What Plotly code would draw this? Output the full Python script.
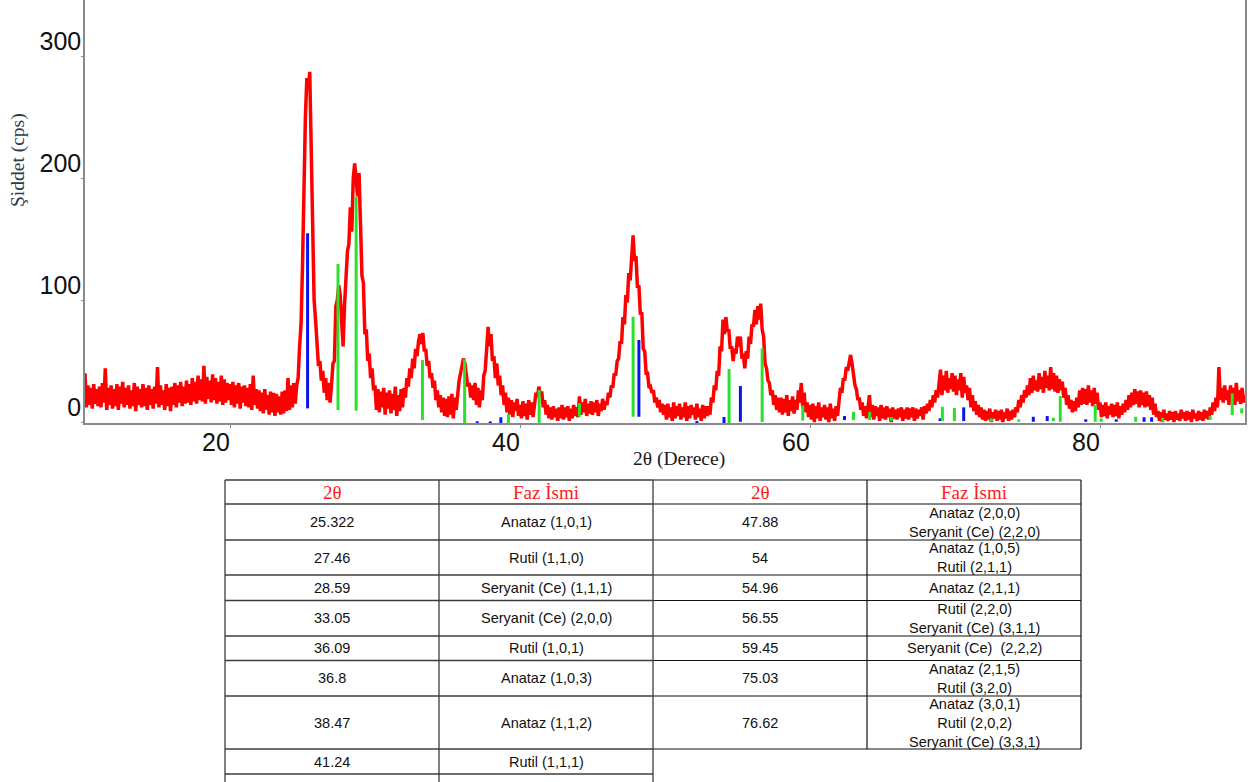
import plotly.graph_objects as go

# ---- diffraction pattern: 2θ from 10° to 90° sampled every 0.1° ----
two_theta_start = 10.0
two_theta_step = 0.1
intensity = [
    40, 12, 30, 14, 28, 11, 31, 15, 27, 13,      # 10
    29, 12, 32, 16, 44, 10, 28, 14, 30, 11,      # 11
    27, 13, 31, 10, 29, 15, 33, 12, 28, 14,      # 12
    30, 11, 26, 13, 32, 9, 29, 14, 27, 12,       # 13
    31, 13, 28, 10, 30, 14, 27, 11, 29, 15,      # 14
    45, 12, 30, 14, 26, 10, 31, 13, 28, 9,       # 15
    29, 14, 32, 12, 30, 16, 33, 13, 29, 15,      # 16
    34, 16, 31, 14, 36, 17, 33, 15, 38, 18,      # 17
    35, 17, 46, 15, 37, 19, 34, 16, 39, 18,      # 18
    36, 15, 33, 17, 38, 14, 35, 16, 32, 18,      # 19
    31, 14, 33, 12, 30, 15, 32, 11, 29, 16,      # 20
    30, 13, 28, 12, 31, 10, 38, 14, 27, 11,      # 21
    26, 9, 24, 7, 27, 10, 22, 6, 25, 8,          # 22
    24, 5, 23, 8, 21, 6, 25, 7, 26, 9,           # 23
    36, 10, 30, 12, 32, 15, 30, 36, 62, 80,      # 24
    128, 212, 250, 282, 272, 287, 220, 160, 100, 84,  # 25
    66, 46, 50, 34, 42, 24, 36, 18, 32, 16,      # 26
    30, 48, 50, 95, 100, 112, 104, 80, 62, 96,   # 27
    114, 140, 146, 176, 156, 200, 212, 194, 185, 204,  # 28
    170, 120, 114, 72, 76, 50, 56, 36, 44, 26,   # 29
    30, 10, 27, 8, 25, 12, 28, 6, 24, 11,        # 30
    26, 7, 23, 10, 29, 5, 22, 9, 27, 12,         # 31
    28, 20, 36, 29, 44, 36, 52, 44, 60, 54,      # 32
    66, 72, 64, 73, 58, 60, 46, 50, 36, 40,      # 33
    28, 34, 18, 26, 12, 22, 8, 20, 5, 19,        # 34
    4, 21, 6, 23, 3, 20, 10, 24, 34, 40,         # 35
    45, 52, 48, 38, 29, 32, 20, 30, 18, 32,      # 36
    14, 28, 12, 26, 18, 38, 42, 60, 78, 62,      # 37
    72, 50, 54, 36, 48, 30, 38, 22, 30, 14,      # 38
    24, 8, 20, 6, 18, 4, 16, 9, 19, 5,           # 39
    14, 3, 17, 5, 15, 2, 18, 6, 16, 4,           # 40
    14, 24, 20, 29, 22, 25, 12, 18, 6, 14,       # 41
    3, 12, 2, 13, 4, 11, 1, 12, 3, 14,           # 42
    2, 12, 4, 13, 1, 11, 3, 14, 5, 12,           # 43
    4, 21, 6, 16, 8, 19, 5, 15, 7, 17,           # 44
    6, 16, 8, 18, 5, 15, 9, 19, 10, 17,          # 45
    14, 24, 20, 30, 28, 40, 38, 50, 52, 66,      # 46
    64, 86, 80, 104, 98, 122, 116, 140, 153, 132,  # 47
    136, 110, 112, 88, 90, 60, 58, 40, 40, 28,   # 48
    29, 24, 26, 16, 20, 12, 18, 8, 15, 6,        # 49
    14, 2, 15, 4, 12, 1, 16, 3, 13, 5,           # 50
    15, 2, 12, 4, 16, 1, 13, 3, 14, 6,           # 51
    12, 2, 15, 4, 11, 1, 14, 3, 13, 5,           # 52
    13, 6, 20, 16, 30, 26, 42, 38, 62, 58,       # 53
    84, 72, 86, 74, 76, 60, 62, 50, 60, 56,      # 54
    70, 62, 70, 52, 56, 44, 58, 52, 70, 64,      # 55
    80, 78, 92, 80, 95, 84, 97, 76, 70, 48,      # 56
    44, 34, 32, 22, 26, 14, 22, 10, 20, 8,       # 57
    20, 6, 19, 8, 22, 5, 18, 9, 21, 7,           # 58
    18, 10, 26, 16, 32, 12, 24, 8, 16, 4,        # 59
    14, 2, 15, 0, 13, 3, 16, 1, 12, 4,           # 60
    14, 2, 12, 0, 15, 3, 11, 1, 13, 5,           # 61
    18, 28, 24, 36, 34, 45, 42, 50, 55, 48,      # 62
    38, 30, 27, 18, 20, 10, 16, 5, 13, 3,        # 63
    12, 22, 4, 14, 2, 13, 5, 12, 1, 14,          # 64
    3, 12, 2, 13, 4, 11, 0, 12, 3, 10,           # 65
    2, 11, 4, 12, 1, 10, 3, 12, 2, 11,           # 66
    4, 12, 1, 11, 3, 10, 5, 12, 2, 13,           # 67
    7, 15, 9, 18, 12, 22, 16, 26, 20, 30,        # 68
    43, 22, 38, 26, 42, 24, 36, 27, 40, 25,      # 69
    38, 22, 35, 26, 40, 20, 37, 24, 30, 18,      # 70
    28, 12, 22, 9, 17, 6, 14, 4, 12, 2,          # 71
    10, 1, 9, 2, 11, 0, 8, 3, 10, 1,             # 72
    9, 2, 10, 0, 8, 3, 11, 1, 9, 2,              # 73
    10, 4, 12, 8, 18, 12, 22, 16, 26, 20,        # 74
    30, 22, 36, 24, 38, 26, 34, 25, 40, 27,      # 75
    37, 24, 42, 28, 38, 26, 45, 27, 40, 25,      # 76
    38, 24, 35, 26, 33, 20, 28, 14, 22, 11,      # 77
    18, 8, 17, 9, 20, 12, 26, 14, 28, 15,        # 78
    27, 14, 30, 16, 26, 13, 28, 15, 24, 10,      # 79
    16, 4, 14, 5, 16, 3, 13, 6, 15, 4,           # 80
    14, 5, 16, 3, 13, 6, 15, 8, 18, 10,          # 81
    22, 12, 24, 14, 27, 15, 25, 12, 26, 14,      # 82
    24, 12, 25, 13, 22, 10, 20, 6, 15, 4,        # 83
    9, 1, 8, 0, 10, 2, 7, 1, 9, 2,               # 84
    8, 0, 9, 2, 7, 1, 10, 3, 8, 1,               # 85
    9, 2, 8, 0, 10, 3, 7, 1, 9, 2,               # 86
    8, 1, 10, 3, 9, 2, 12, 6, 16, 9,             # 87
    20, 12, 45, 18, 28, 16, 30, 18, 26, 14,      # 88
    30, 18, 28, 14, 32, 17, 26, 15, 28, 16,      # 89
    22,                                          # 90
]

# ---- reference lines (position, top, bottom) ----
anatase_pos = [25.35, 37.05, 37.95, 38.68, 48.2, 52.2, 54.07, 55.2, 62.38,
               68.97, 70.6, 75.4, 76.36, 79.02, 81.12, 83.04, 83.56]
anatase_top = [154.7, 0.6, 0.5, 3.9, 67.2, 0.8, 4.1, 29.5, 4.9,
               3.0, 12.0, 4.3, 4.9, 2.2, 2.2, 3.9, 3.9]
anatase_bot = [11.2, -1, -1, -0.8, 4.3, -1, -0.8, 0.2, 1.6,
               0.8, 0.8, 0.2, 0.8, 0.2, 0.2, 0.2, 0.2]

other_pos = [27.45, 28.7, 33.27, 36.18, 39.2, 41.32, 44.1, 47.8, 54.42, 56.7,
             59.5, 63.0, 64.12, 65.6, 69.13, 69.96, 72.5, 74.4, 76.78, 77.26,
             79.67, 80.08, 82.46, 84.32, 87.6, 89.12, 89.77]
other_top = [129.5, 184.7, 50.8, 51.6, 6.6, 26.2, 15.3, 86.3, 43.4, 60.4,
             13.5, 8.4, 8.4, 4.1, 12.5, 11.5, 3.0, 2.2, 3.5, 21.3,
             14.0, 3.0, 4.3, 3.5, 4.9, 23.5, 11.2]
other_bot = [9.8, 9.3, 1.6, -0.8, -1, -0.6, 4.3, 4.3, -0.8, 0.0,
             1.2, 1.6, 1.6, 0.8, 0.8, 0.8, 0.2, 0.2, 0.8, 0.2,
             0.2, 0.2, 0.2, 0.2, 1.6, 5.7, 7.1]

x_ticks = [20, 40, 60, 80]
y_ticks = [0, 100, 200, 300]

# ---- phase table ----
left_theta = ["25.322", "27.46", "28.59", "33.05", "36.09", "36.8", "38.47", "41.24"]
left_phase = ["Anataz (1,0,1)", "Rutil (1,1,0)", "Seryanit (Ce) (1,1,1)",
              "Seryanit (Ce) (2,0,0)", "Rutil (1,0,1)", "Anataz (1,0,3)",
              "Anataz (1,1,2)", "Rutil (1,1,1)"]
right_theta = ["47.88", "54", "54.96", "56.55", "59.45", "75.03", "76.62"]
right_phase = ["Anataz (2,0,0)<br>Seryanit (Ce) (2,2,0)",
               "Anataz (1,0,5)<br>Rutil (2,1,1)",
               "Anataz (2,1,1)",
               "Rutil (2,2,0)<br>Seryanit (Ce) (3,1,1)",
               "Seryanit (Ce)\u00a0 (2,2,2)",
               "Anataz (2,1,5)<br>Rutil (3,2,0)",
               "Anataz (3,0,1)<br>Rutil (2,0,2)<br>Seryanit (Ce) (3,3,1)"]
header = ["2θ", "Faz İsmi", "2θ", "Faz İsmi"]

W, H = 1251, 782
two_theta = [two_theta_start + i * two_theta_step for i in range(len(intensity))]


def sticks(pos, top, bot):
    xs, ys = [], []
    for p, t, b in zip(pos, top, bot):
        xs += [p, p, None]
        ys += [b, t, None]
    return xs, ys


fig = go.Figure()
fig.add_trace(go.Scatter(x=two_theta, y=intensity, mode="lines",
                         line=dict(color="#ff0000", width=3.5), hoverinfo="skip"))
ax, ay = sticks(anatase_pos, anatase_top, anatase_bot)
fig.add_trace(go.Scatter(x=ax, y=ay, mode="lines",
                         line=dict(color="#0a14f0", width=3), hoverinfo="skip"))
gx, gy = sticks(other_pos, other_top, other_bot)
fig.add_trace(go.Scatter(x=gx, y=gy, mode="lines",
                         line=dict(color="#2be02b", width=3), hoverinfo="skip"))

axis_grey = "#8a8a8a"
fig.update_layout(
    width=W, height=H, margin=dict(l=0, r=0, t=0, b=0),
    paper_bgcolor="white", plot_bgcolor="white", showlegend=False,
    xaxis=dict(domain=[85 / W, 1245 / W], range=[10, 90], tickvals=x_ticks,
               showgrid=False, zeroline=False, showline=True, linecolor=axis_grey,
               linewidth=1.5, ticks="outside", ticklen=3, tickcolor=axis_grey,
               tickfont=dict(family="Liberation Sans, Arial", size=25, color="#111"),
               ticklabelshift=-14, ticklabelstandoff=-7, automargin=False),
    yaxis=dict(domain=[1 - 423 / H, 1], range=[-0.8, 345.9], tickvals=y_ticks,
               showgrid=False, zeroline=False, showline=True, linecolor=axis_grey,
               linewidth=1.5, mirror=True, ticks="outside", ticklen=2,
               tickcolor=axis_grey,
               tickfont=dict(family="Liberation Sans, Arial", size=25, color="#111"),
               ticklabelshift=-15, ticklabelstandoff=-5, automargin=False),
)


def px(x):
    return x / W


def py(y):
    return 1 - y / H


annotations = [
    dict(x=px(679), y=py(459), text="2θ (Derece)",
         font=dict(family="Liberation Serif, Times New Roman", size=19.5, color="#1a1a1a")),
    dict(x=px(18), y=py(160), text="Şiddet (cps)", textangle=-90,
         font=dict(family="Liberation Serif, Times New Roman", size=19.5, color="#2d3b4b")),
]

# table grid
col_x = [225, 439, 653, 867, 1081]
row_y = [480, 504, 540, 575, 600.5, 636, 660.5, 696, 749, 774]
line_dark = dict(color="#3c3c3c", width=1.3)
line_black = dict(color="#111111", width=1.2)
shapes = []
for y in row_y:
    shapes.append(dict(type="line", xref="paper", yref="paper", x0=px(col_x[0]), x1=px(col_x[2]),
                       y0=py(y), y1=py(y), line=line_dark))
for y in row_y[:-1]:
    shapes.append(dict(type="line", xref="paper", yref="paper", x0=px(col_x[2]), x1=px(col_x[4]),
                       y0=py(y), y1=py(y), line=line_black))
for x in col_x[:3]:
    shapes.append(dict(type="line", xref="paper", yref="paper", x0=px(x), x1=px(x),
                       y0=py(row_y[0]), y1=py(H + 2), line=line_dark))
for x in col_x[3:]:
    shapes.append(dict(type="line", xref="paper", yref="paper", x0=px(x), x1=px(x),
                       y0=py(row_y[0]), y1=py(row_y[8]), line=line_black))

cell_font = dict(family="Liberation Sans, Arial", size=14.5, color="#111")
head_font = dict(family="Liberation Serif, Times New Roman", size=19, color="#ff1a1a")
for i, h in enumerate(header):
    annotations.append(dict(x=px((col_x[i] + col_x[i + 1]) / 2), y=py(492.5), text=h,
                            font=head_font))
for r, (t, p) in enumerate(zip(left_theta, left_phase)):
    yc = py((row_y[r + 1] + row_y[r + 2]) / 2)
    annotations.append(dict(x=px((col_x[0] + col_x[1]) / 2), y=yc, text=t, font=cell_font))
    annotations.append(dict(x=px((col_x[1] + col_x[2]) / 2), y=yc, text=p, font=cell_font))
for r, (t, p) in enumerate(zip(right_theta, right_phase)):
    yc = py((row_y[r + 1] + row_y[r + 2]) / 2)
    annotations.append(dict(x=px((col_x[2] + col_x[3]) / 2), y=yc, text=t, font=cell_font))
    annotations.append(dict(x=px((col_x[3] + col_x[4]) / 2), y=yc, text=p, font=cell_font))

for a in annotations:
    a.update(xref="paper", yref="paper", showarrow=False,
             xanchor="center", yanchor="middle")

fig.update_layout(annotations=annotations, shapes=shapes)
fig.write_html("out.html")
